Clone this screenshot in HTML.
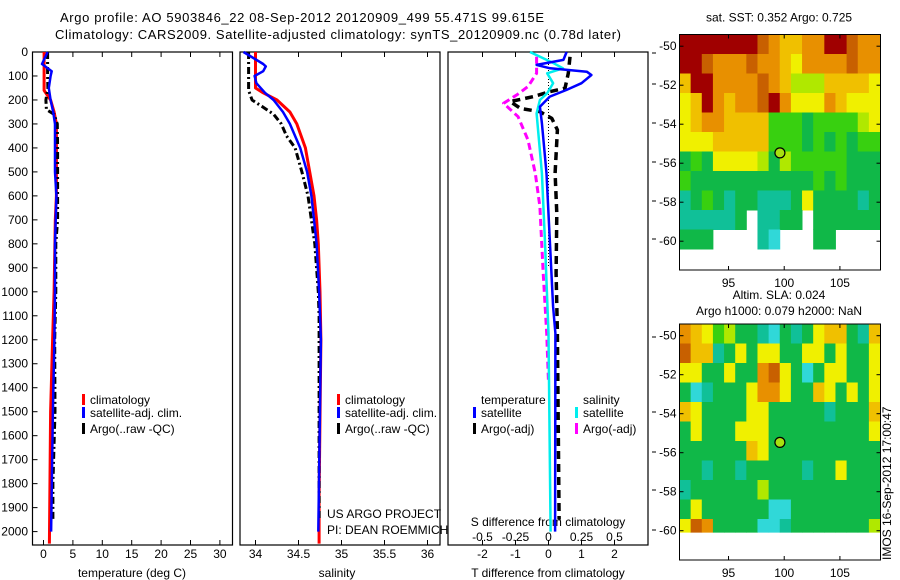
<!DOCTYPE html>
<html><head><meta charset="utf-8"><style>
html,body{margin:0;padding:0;background:#fff}
svg{display:block;font-family:"Liberation Sans",Arial,sans-serif}
</style></head><body>
<svg id="fig" width="900" height="580" viewBox="0 0 900 580" xmlns="http://www.w3.org/2000/svg">
<text x="60" y="22" font-size="13" textLength="484">Argo profile: AO 5903846_22 08-Sep-2012 20120909_499 55.471S 99.615E</text>
<text x="55" y="39" font-size="13" textLength="566">Climatology: CARS2009. Satellite-adjusted climatology: synTS_20120909.nc (0.78d later)</text>
<g id="plots"></g>
</svg>
<script>
// ---------- profile data ----------
const tClimDepth=[0,160,200,250,300,600,700,1000,1200,1500,2050];
const tClimVal=[0.1,0.1,1.2,1.8,2.2,2.2,2.0,1.8,1.55,1.2,1.0];
const tSatDepth=[0,50,80,100,150,200,250,300,500,600,800,1000,1200,1500,2000];
const tSatVal=[0.7,-0.25,1.4,1.2,0.9,1.2,1.65,1.95,1.95,2.2,1.95,1.95,1.85,1.6,1.3];
const tArgoDepth=[0,100,150,200,240,260,300,400,700,800,1000,1200,1500,1800,1950];
const tArgoVal=[0.7,0.7,0.75,0.4,0.5,1.8,2.35,2.4,2.4,2.1,2.1,1.9,1.95,1.6,1.6];
const sClimDepth=[0,150,170,200,250,300,400,500,600,700,800,1000,1200,1850,2050];
const sClimVal=[34.0,34.0,34.09,34.25,34.4,34.48,34.58,34.63,34.68,34.71,34.73,34.75,34.76,34.74,34.74];
const sSatDepth=[0,50,60,80,100,130,170,200,250,300,400,500,600,800,1000,1200,2000];
const sSatVal=[33.86,34.09,34.12,34.09,33.99,34.01,34.11,34.21,34.32,34.4,34.52,34.6,34.65,34.71,34.74,34.76,34.73];
const sArgoDepth=[0,160,200,230,260,300,350,400,500,600,700,800,1000,1100,1950];
const sArgoVal=[33.92,33.92,33.96,34.09,34.21,34.3,34.36,34.46,34.54,34.61,34.65,34.69,34.73,34.74,34.74];
const dTSatDepth=[0,33,54,68,82,96,130,158,186,228,297,506,784,1062,1173,2000];
const dTSatVal=[0.55,0.45,-0.36,0.05,1.16,1.3,1.0,0.55,0.04,-0.26,-0.2,-0.06,0.04,0.14,0.21,0.2];
const dSSatDepth=[0,47,68,89,130,172,200,256,506,784,1173,2000];
const dSSatVal=[-0.14,0.04,0.11,-0.01,0.035,-0.01,-0.065,-0.09,-0.05,-0.027,0,0.016];
const dTArgoDepth=[20,89,151,165,186,207,235,249,277,325,506,673,923,1173,1950];
const dTArgoVal=[0.65,0.6,0.5,0.05,-0.46,-1.16,-0.85,-0.26,0.1,0.27,0.2,0.25,0.23,0.27,0.32];
const dSArgoDepth=[20,89,144,179,214,270,367,506,645,923,1173,1380];
const dSArgoVal=[-0.09,-0.09,-0.155,-0.24,-0.34,-0.23,-0.155,-0.1,-0.065,-0.04,-0.014,0];
const depthTicks=[0,100,200,300,400,500,600,700,800,900,1000,1100,1200,1300,1400,1500,1600,1700,1800,1900,2000];
const tempTicks=[0,5,10,15,20,25,30];
const salTicks=[34,34.5,35,35.5,36];
const dTTicks=[-2,-1,0,1,2];
const dSTicks=[-0.5,-0.25,0,0.25,0.5];
const dSTickLabels=["-0.5","-0.25","0","0.25","0.5"];
// ---------- map data (1 deg cells, lon from 90.6, lat from -49.4 downward; -1 = no data) ----------
const mapLon0=90.6, mapLat0=-49.4;
const sstGrid=[
[10,10,10,10,10,10,10,9,8,7,7,8,8,10,10,9,8,8],
[10,10,9,8,8,8,9,8,8,7,6,8,8,8,8,9,8,8],
[7,10,10,8,8,8,8,9,8,7,5,5,5,7,7,7,7,6],
[6,7,10,8,7,8,8,9,10,8,6,6,6,8,7,6,6,6],
[6,7,8,8,7,7,7,7,4,4,4,3,4,4,4,4,5,6],
[6,6,6,7,7,7,7,7,4,4,4,3,4,3,4,3,4,4],
[3,4,3,6,6,6,6,5,3,5,4,4,4,4,4,3,3,3],
[4,3,3,3,3,3,3,3,3,3,3,3,4,3,4,3,3,3],
[2,3,4,3,2,3,3,2,2,2,3,6,3,3,3,3,2,3],
[2,2,2,2,2,3,-1,2,2,3,3,-1,3,3,3,3,3,3],
[3,3,3,-1,-1,-1,-1,2,1,-1,-1,-1,3,3,-1,-1,-1,-1],
[-1,-1,-1,-1,-1,-1,-1,-1,-1,-1,-1,-1,-1,-1,-1,-1,-1,-1]];
const slaGrid=[
[8,7,6,4,5,3,3,2,1,3,2,3,6,7,7,3,2,7],
[9,7,7,2,3,6,3,6,6,3,3,6,6,3,6,3,3,6],
[6,6,3,3,6,3,3,8,9,6,3,1,3,6,6,3,3,6],
[3,1,2,3,3,3,6,8,8,6,3,3,7,6,3,6,3,6],
[7,6,3,3,3,3,6,6,3,3,3,3,3,2,3,3,3,7],
[3,6,3,3,3,6,6,6,3,3,3,3,3,3,3,3,3,6],
[3,3,3,3,3,3,7,6,3,3,3,3,3,3,3,3,3,3],
[3,3,2,3,3,2,3,3,3,3,3,2,3,3,6,3,3,3],
[2,3,3,3,3,3,3,5,3,3,3,3,3,3,3,3,3,3],
[3,6,3,3,3,3,3,3,1,1,3,3,3,3,3,3,3,3],
[6,9,8,3,3,3,3,1,1,2,3,3,3,3,3,3,3,5],
[-1,-1,-1,-1,-1,-1,-1,-1,-1,-1,-1,-1,-1,-1,-1,-1,-1,-1]];
const argoLon=99.615, argoLat=-55.471;
const mapLatTicks=[-50,-52,-54,-56,-58,-60];
const mapLonTicks=[95,100,105];
const levelColors=["#fff","#30d8d8","#10c098","#10b848","#38d010","#b0e800","#f0f000","#f0c000","#e89000","#c86000","#a00000"];

const NS="http://www.w3.org/2000/svg";
const root=document.getElementById('plots');
function mk(tag,attrs,parent){const e=document.createElementNS(NS,tag);for(const k in attrs)e.setAttribute(k,attrs[k]);(parent||root).appendChild(e);return e;}
function txt(x,y,s,size,anchor,parent){const e=mk('text',{x:x,y:y,'font-size':size||12,'text-anchor':anchor||'start'},parent);e.textContent=s;return e;}
const yTop=52, yBot=545;
function yD(d){return yTop+d*0.2398;}
function xT(v){return 43.5+v*5.88;}
function xS(v){return 255.5+(v-34)*86;}
function xDT(v){return 548.5+v*33;}
function xDS(v){return 548.5+v*132;}

function frame(x0,x1,name){
  const g=mk('g',{});
  
  
  mk('rect',{x:x0,y:yTop,width:x1-x0,height:yBot-yTop,fill:'none',stroke:'#000','stroke-width':1.2},g);
  return g;
}
function line(depths,vals,fx,color,w,dash,name,parent){
  const pts=depths.map((d,i)=>fx(vals[i]).toFixed(1)+','+yD(d).toFixed(1)).join(' ');
  const p=mk('polyline',{points:pts,fill:'none',stroke:color,'stroke-width':w,'stroke-linejoin':'round'},parent);
  if(dash)p.setAttribute('stroke-dasharray',dash);
  
  
}
function xticks(g,ticks,labels,fx,withTop){
  ticks.forEach((t,i)=>{
    const x=fx(t);
    mk('line',{x1:x,x2:x,y1:yBot,y2:yBot-5,stroke:'#000'},g);
    if(withTop)mk('line',{x1:x,x2:x,y1:yTop,y2:yTop+5,stroke:'#000'},g);
    const l=txt(x,558,labels[i],12,'middle',g);
    
    
  });
}
function legendEntry(g,x,y,color,label){
  const e=mk('g',{},g);
  
  
  mk('rect',{x:x,y:y-10,width:3,height:11,fill:color},e);
  txt(x+8,y,label,12,'start',e);
}

// Panel 1 temperature
const p1=frame(32.5,232.5,'temperature-panel');
depthTicks.forEach(d=>{
  const y=yD(d);
  mk('line',{x1:32.5,x2:37.5,y1:y,y2:y,stroke:'#000'},p1);
  const l=txt(28,y+4,String(d),12,'end',p1);
  
  
});
xticks(p1,tempTicks,tempTicks.map(String),xT,true);
line(tClimDepth,tClimVal,xT,'#ff0000',3,null,'temp-climatology-line',p1);
line(tArgoDepth,tArgoVal,xT,'#000',3,'7,3,2,3','temp-argo-line',p1);
line(tSatDepth,tSatVal,xT,'#0000ff',2.5,null,'temp-satellite-line',p1);
legendEntry(p1,82,404,'#ff0000','climatology');
legendEntry(p1,82,417,'#0000ff','satellite-adj. clim.');
legendEntry(p1,82,433,'#000','Argo(..raw -QC)');
const t1=txt(132,577,'temperature (deg C)',12,'middle',p1);


// Panel 2 salinity
const p2=frame(240,440,'salinity-panel');
xticks(p2,salTicks,salTicks.map(String),xS,true);
line(sClimDepth,sClimVal,xS,'#ff0000',3,null,'sal-climatology-line',p2);
line(sArgoDepth,sArgoVal,xS,'#000',3,'7,3,2,3','sal-argo-line',p2);
line(sSatDepth,sSatVal,xS,'#0000ff',2.5,null,'sal-satellite-line',p2);
legendEntry(p2,337,404,'#ff0000','climatology');
legendEntry(p2,337,417,'#0000ff','satellite-adj. clim.');
legendEntry(p2,337,433,'#000','Argo(..raw -QC)');
const c1=txt(327,518,'US ARGO PROJECT',12,'start',p2);

const c2=txt(327,534,'PI: DEAN ROEMMICH',12,'start',p2);

const t2=txt(337,577,'salinity',12,'middle',p2);


// Panel 3 differences
const p3=frame(448,648,'difference-panel');
xticks(p3,dTTicks,dTTicks.map(String),xDT,true);
dSTicks.forEach((t,i)=>{const l=txt(xDS(t),541,dSTickLabels[i],12,'middle',p3);
  });
const sT=txt(548,526,'S difference from climatology',12,'middle',p3);

mk('line',{x1:xDT(0),x2:xDT(0),y1:yTop,y2:yD(900),stroke:'#000','stroke-width':1,'stroke-dasharray':'1,2'},p3);
line(dSArgoDepth,dSArgoVal,xDS,'#ff00ff',3,'7,4','sal-argo-diff-line',p3);
line(dTArgoDepth,dTArgoVal,xDT,'#000',3.5,'8,5','temp-argo-diff-line',p3);
line(dSSatDepth,dSSatVal,xDS,'#00eeee',2.5,null,'sal-satellite-diff-line',p3);
line(dTSatDepth,dTSatVal,xDT,'#0000ff',2.5,null,'temp-satellite-diff-line',p3);
txt(481,404,'temperature',12,'start',p3);
legendEntry(p3,473,417,'#0000ff','satellite');
legendEntry(p3,473,433,'#000','Argo(-adj)');
txt(583,404,'salinity',12,'start',p3);
legendEntry(p3,575,417,'#00eeee','satellite');
legendEntry(p3,575,433,'#ff00ff','Argo(-adj)');
const t3=txt(548,577,'T difference from climatology',12,'middle',p3);

[53,84,123,162,201,239,337,412,452,490,530].forEach(y=>mk('line',{x1:652,x2:656,y1:y,y2:y,stroke:'#000'},p3));

// Maps
function drawMap(grid,top,bottom,clipLat,name,title1,title2){
  const x0=679.5,x1=880.5;
  const fx=l=>x0+(l-mapLon0)*11.14;
  const latTopY=top;
  const pxPerDeg=19.5;
  const fy=l=>latTopY+(mapLat0-l)*pxPerDeg;
  const g=mk('g',{});
  
  
  const cid='clip-'+name;
  const cp=mk('clipPath',{id:cid},g);
  mk('rect',{x:x0,y:top,width:x1-x0,height:Math.min(bottom,fy(clipLat))-top},cp);
  const cells=mk('g',{'clip-path':'url(#'+cid+')'},g);
  grid.forEach((row,r)=>row.forEach((v,c)=>{
    if(v<0)return;
    const cell=mk('rect',{x:fx(mapLon0+c).toFixed(2),y:fy(mapLat0-r).toFixed(2),width:11.6,height:20,fill:levelColors[v]},cells);
    
    
  }));
  mk('rect',{x:x0,y:top,width:x1-x0,height:bottom-top,fill:'none',stroke:'#000','stroke-width':1},g);
  mapLatTicks.forEach(l=>{const y=fy(l);
    mk('line',{x1:x0,x2:x0+4,y1:y,y2:y,stroke:'#000'},g);
    mk('line',{x1:x1,x2:x1-4,y1:y,y2:y,stroke:'#000'},g);
    txt(x0-3,y+4,String(l),12,'end',g);});
  mapLonTicks.forEach(l=>{const x=fx(l);
    mk('line',{x1:x,x2:x,y1:bottom,y2:bottom-4,stroke:'#000'},g);
    mk('line',{x1:x,x2:x,y1:top,y2:top+4,stroke:'#000'},g);
    txt(x,bottom+17,String(l),12,'middle',g);});
  const m=mk('circle',{cx:fx(argoLon),cy:fy(argoLat),r:5,fill:'#a8e010',stroke:'#000','stroke-width':1.2},g);
  
  
  if(title2){txt(779,top-25,title1,12,'middle',g);txt(779,top-9,title2,12,'middle',g);}
  else txt(779,top-13,title1,12,'middle',g);
}
drawMap(sstGrid,34.5,270,-70,'sst-map','sat. SST: 0.352 Argo: 0.725');
drawMap(slaGrid,324,560,-60.1,'sla-map','Altim. SLA: 0.024','Argo h1000: 0.079 h2000: NaN');
const im=mk('text',{x:0,y:0,'font-size':12,'text-anchor':'start',transform:'translate(891,560) rotate(-90)'});
im.textContent='IMOS 16-Sep-2012 17:00:47';


</script>
</body></html>
